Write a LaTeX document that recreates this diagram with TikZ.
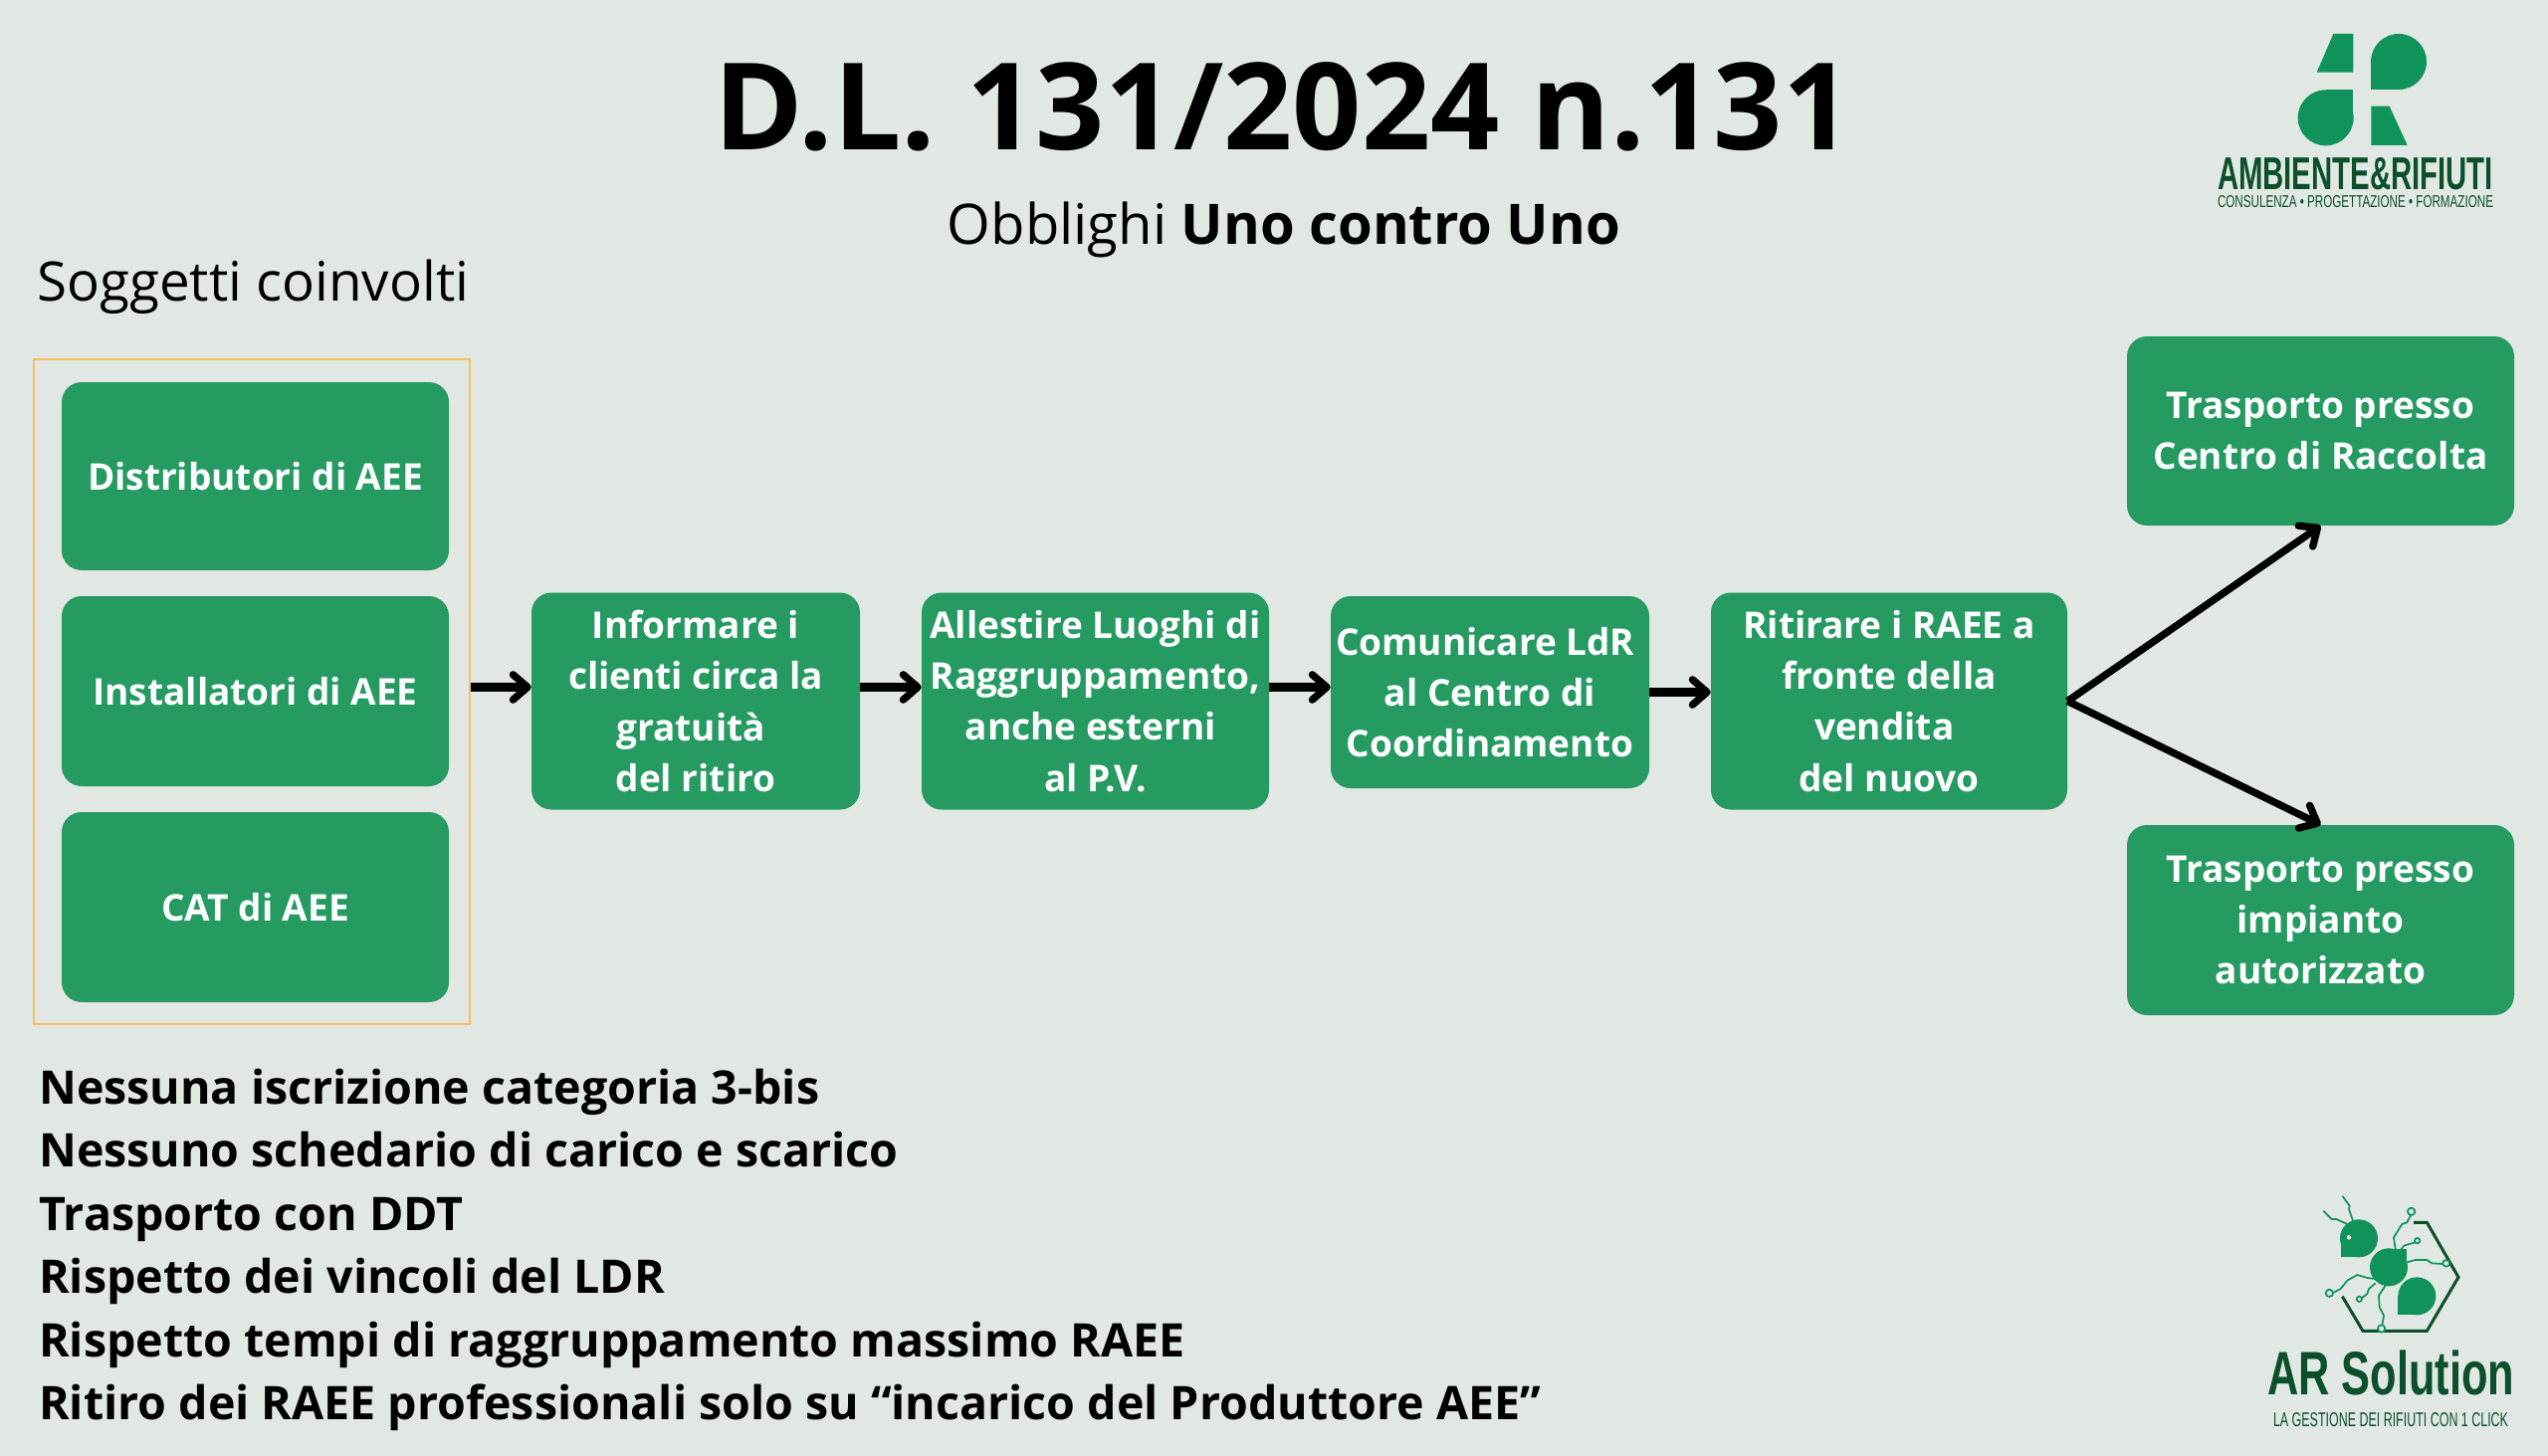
\documentclass[tikz,border=0pt]{standalone}
\usepackage{fontspec}
\usepackage{graphicx}
\setmainfont{Open Sans}
\newfontfamily\logofont{Liberation Sans}
\usetikzlibrary{arrows.meta}

\definecolor{pagebg}{HTML}{E1E8E3}
\definecolor{boxgreen}{HTML}{259A61}
\definecolor{logogreen}{HTML}{10935A}
\definecolor{logodark}{HTML}{0C4F2B}
\definecolor{srcorange}{HTML}{F6C063}

\tikzset{
  greenbox/.style={fill=boxgreen,text=white,rounded corners=15pt,inner sep=0pt,align=center,
    font=\fontsize{27.75}{38.4}\selectfont\bfseries},
  flowarrow/.style={draw=black,line width=6.5pt,-{Straight Barb[round,length=11pt,width=19pt,line width=5.5pt]}},
  splitarrow/.style={draw=black,line width=5.5pt,-{Straight Barb[round,length=11pt,width=19pt,line width=5.5pt]}},
  notetext/.style={anchor=base west,inner sep=0pt,font=\fontsize{34.9}{40}\selectfont\bfseries},
  circuit/.style={draw=logogreen,line width=1.3pt,line join=round},
  solderpad/.style={draw=logogreen,line width=1.3pt,fill=pagebg},
}

\begin{document}
\begin{tikzpicture}[x=0.75pt,y=0.75pt,yscale=-1,xscale=1]
\fill [pagebg] (0,0) rectangle (2560,1463);
\useasboundingbox (0,0) rectangle (2560,1463);

% Text Node
\node [anchor=base,inner sep=0pt,font=\fontsize{91}{100}\selectfont\bfseries] (title) at (1289,150.5) {D.L. 131/2024 n.131};
% Text Node
\node [anchor=base,inner sep=0pt,font=\fontsize{42.1}{50}\selectfont] (subtitle) at (1290,245) {Obblighi \textbf{Uno contro Uno}};
% Text Node
\node [anchor=base west,inner sep=0pt,font=\fontsize{41}{50}\selectfont] (soggetti) at (37,302) {Soggetti coinvolti};

% Source frame
\node [draw=srcorange,line width=1.9pt,minimum width=328.5pt,minimum height=501pt,inner sep=0pt] (frame) at (253,695) {};

% Source boxes
\node [greenbox,minimum width=291.75pt,minimum height=141.75pt] (distributori) at (256.5,478.5) {Distributori di AEE};
\node [greenbox,minimum width=291.75pt,minimum height=143.25pt] (installatori) at (256.5,694.5) {Installatori di AEE};
\node [greenbox,minimum width=291.75pt,minimum height=143.25pt] (cat) at (256.5,911.5) {CAT di AEE};

% Flow boxes
\node [greenbox,minimum width=247.5pt,minimum height=163.5pt] (informare) at (699,704.5) {Informare i\\clienti circa la\\gratuità~~\\del ritiro};
\node [greenbox,minimum width=261.75pt,minimum height=163.5pt] (allestire) at (1100.5,704.5) {Allestire Luoghi di\\Raggruppamento,\\anche esterni~~\\al P.V.};
\node [greenbox,minimum width=240pt,minimum height=144.75pt] (comunicare) at (1497,695.5) {Comunicare LdR~~\\al Centro di\\Coordinamento};
\node [greenbox,minimum width=268.5pt,minimum height=163.5pt] (ritirare) at (1898,704.5) {Ritirare i RAEE a\\fronte della\\vendita~~\\del nuovo};
\node [greenbox,minimum width=291.75pt,minimum height=142.5pt] (centro) at (2331.5,433) {Trasporto presso\\Centro di Raccolta};
\node [greenbox,minimum width=291.75pt,minimum height=143.25pt] (impianto) at (2331.5,924.5) {Trasporto presso\\impianto\\autorizzato};

% Connection
\coordinate (flowline) at (0,690.5);
\draw [flowarrow] (frame.east |- flowline) -- (informare.west |- flowline);
\draw [flowarrow] (informare.east |- flowline) -- (allestire.west |- flowline);
\draw [flowarrow] (allestire.east |- flowline) -- (comunicare.west |- flowline);
\draw [flowarrow] (comunicare.east) -- (ritirare.west |- comunicare.east);
\draw [splitarrow] (ritirare.east) -- (centro.south);
\draw [splitarrow] (ritirare.east) -- (impianto.north);

% Text Node
\node [notetext] (noteA) at (39,1109) {Nessuna iscrizione categoria 3-bis};
\node [notetext] (noteB) at (39,1172) {Nessuno schedario di carico e scarico};
\node [notetext] (noteC) at (39,1236) {Trasporto con DDT};
\node [notetext] (noteD) at (39,1299) {Rispetto dei vincoli del LDR};
\node [notetext] (noteE) at (39,1363) {Rispetto tempi di raggruppamento massimo RAEE};
\node [notetext] (noteF) at (39,1426) {Ritiro dei RAEE professionali solo su “incarico del Produttore AEE”};

% Upper logo
\begin{scope}[shift={(2150,0)},scale=1/3]
\fill [logogreen] (583,102) -- (643,102) -- (643,218) -- (533,218) -- cycle;
\fill [logogreen] (780,186) circle (84);
\fill [logogreen] (697,186) rectangle (780,270);
\fill [logogreen] (560,355) circle (84);
\fill [logogreen] (560,270) rectangle (643,355);
\fill [logogreen] (697,320) -- (752,320) -- (806,438) -- (697,438) -- cycle;
\end{scope}
\node [anchor=north,inner sep=0pt,text=logodark] (brand) at (2366.5,158) {\resizebox{207.75pt}{24pt}{\logofont\bfseries AMBIENTE\&RIFIUTI}};
\node [anchor=north,inner sep=0pt,text=logodark] (brandsub) at (2366.5,196) {\resizebox{207.75pt}{9pt}{\logofont CONSULENZA • PROGETTAZIONE • FORMAZIONE}};

% Lower logo
\begin{scope}[shift={(2230,1180)},scale=1/3]
\draw [logodark,line width=2.25pt] (585,145) -- (625,145) -- (720,310) -- (625,472) -- (432,472) -- (370,368);
\fill [logogreen] (420,193) circle (57);
\fill [logogreen] (365,193) rectangle (420,250);
\fill [pagebg] (390,190) circle (7);
\fill [logogreen] (510,280) circle (57);
\fill [logogreen] (510,225) rectangle (565,280);
\fill [logogreen] (595,367) circle (57);
\fill [logogreen] (538,367) rectangle (595,423);
\draw [circuit] (385,150) -- (352,135) -- (338,135) -- (313,110);
\draw [circuit] (402,140) -- (390,105) -- (392,95) -- (370,65);
\draw [circuit] (530,225) -- (525,190) -- (550,150) -- (565,145) -- (578,120);
\draw [circuit] (545,230) -- (555,215) -- (590,205);
\draw [circuit] (565,265) -- (590,258) -- (625,258) -- (640,268) -- (672,270);
\draw [circuit] (470,315) -- (445,312) -- (415,303) -- (385,320) -- (365,345) -- (342,357);
\draw [circuit] (470,328) -- (450,345) -- (445,360) -- (430,372);
\draw [circuit] (500,335) -- (480,365) -- (482,400) -- (495,425) -- (490,455);
\draw [solderpad] (578,112) circle (11);
\draw [solderpad] (596,200) circle (8);
\draw [solderpad] (683,268) circle (10);
\draw [solderpad] (331,358) circle (11);
\draw [solderpad] (421,376) circle (8);
\draw [solderpad] (488,465) circle (11);
\end{scope}
\node [anchor=north,inner sep=0pt,text=logodark] (solution) at (2402,1357) {\resizebox{186pt}{33.5pt}{\logofont\bfseries AR Solution}};
\node [anchor=north,inner sep=0pt,text=logodark] (solutionsub) at (2402,1419) {\resizebox{177pt}{10.5pt}{\logofont LA GESTIONE DEI RIFIUTI CON 1 CLICK}};

\end{tikzpicture}
\end{document}
